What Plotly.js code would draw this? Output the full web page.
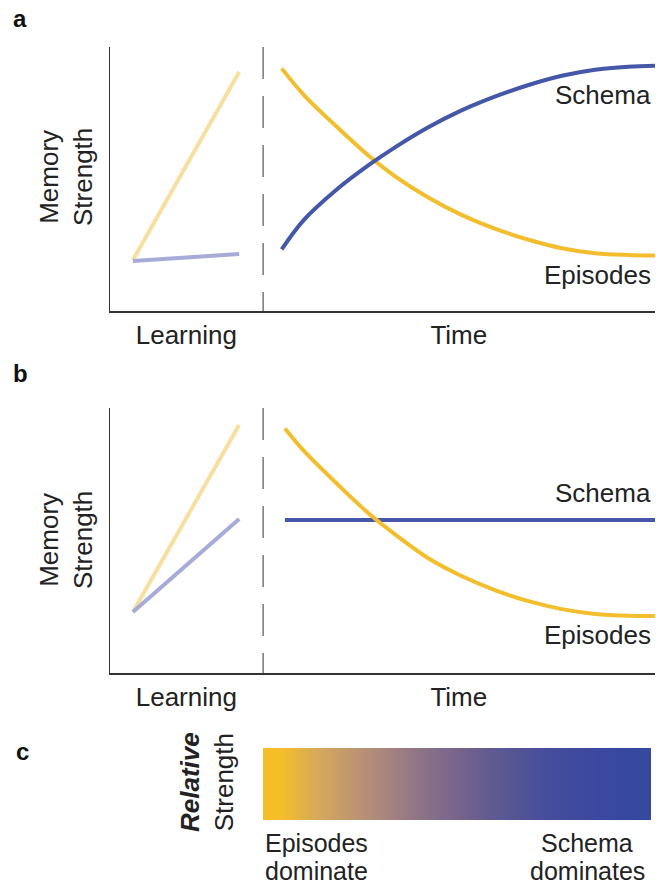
<!DOCTYPE html>
<html>
<head>
<meta charset="utf-8">
<script src="https://cdn.plot.ly/plotly-3.0.1.min.js"></script>
<style>html,body{margin:0;padding:0;background:#fff}#chart{width:656px;height:887px}</style>
</head>
<body>
<div id="chart"></div>
<script>
// ---- data (x: 0..100 time units, y: 0..100 memory strength) ----
var learnX = [4.2, 23.7];
var aLearnEpisodes = [19.3, 90.5];
var aLearnSchema = [18.9, 21.6];
var aTimeX = [31.5, 35.5, 41.6, 47.7, 52.3, 58.4, 64.5, 70.6, 76.8, 82.9, 89.0, 95.1, 100];
var aEpisodes = [91.9, 82.0, 69.8, 58.4, 51.0, 43.0, 36.4, 31.2, 27.0, 23.8, 21.9, 21.2, 21.0];
var aSchema = [23.3, 34.3, 46.0, 55.6, 62.0, 69.6, 76.0, 81.2, 85.6, 89.1, 91.4, 92.5, 92.9];

var bLearnEpisodes = [23.0, 93.6];
var bLearnSchema = [23.0, 58.1];
var bTimeX = [32.1, 35.5, 41.6, 47.7, 53.2, 58.4, 64.5, 70.6, 76.8, 82.9, 89.0, 95.1, 100];
var bEpisodes = [92.3, 84.0, 71.5, 59.8, 50.9, 43.3, 36.6, 31.3, 27.1, 24.1, 22.3, 21.6, 21.5];
var bSchema = [57.7, 57.7, 57.7, 57.7, 57.7, 57.7, 57.7, 57.7, 57.7, 57.7, 57.7, 57.7, 57.7];

var learningEnd = 28.1;
var xTickVals = [14, 64];
var xTickText = ['Learning', 'Time'];

var gradientZ = [[0, 0.1, 0.2, 0.3, 0.4, 0.5, 0.6, 0.7, 0.8, 0.9, 1]];
var gradientColors = [
  [0, 'rgb(245,190,40)'],
  [0.1, 'rgb(215,170,90)'],
  [0.25, 'rgb(180,140,120)'],
  [0.4, 'rgb(140,115,135)'],
  [0.5, 'rgb(120,100,140)'],
  [0.6, 'rgb(95,90,145)'],
  [0.75, 'rgb(70,78,155)'],
  [0.9, 'rgb(58,72,160)'],
  [1, 'rgb(55,72,160)']
];

// ---- styles ----
var YEL = '#F2BE2E', BLU = '#4457A8', YEL_L = '#F5E0A0', BLU_L = '#A7ABD8';
var TXT = '#222222';
var FONT = 'Liberation Sans, Arial, Helvetica, sans-serif';
var W = 656, H = 887;
function px(x){return x / W;}
function py(y){return 1 - y / H;}

function line(x, y, color, xa, ya){
  return {x: x, y: y, type: 'scatter', mode: 'lines', xaxis: xa, yaxis: ya,
          line: {color: color, width: 4, shape: 'spline', smoothing: 1}, hoverinfo: 'skip', showlegend: false};
}

var traces = [
  line(learnX, aLearnEpisodes, YEL_L, 'x', 'y'),
  line(learnX, aLearnSchema, BLU_L, 'x', 'y'),
  line(aTimeX, aEpisodes, YEL, 'x', 'y'),
  line(aTimeX, aSchema, BLU, 'x', 'y'),
  line(learnX, bLearnEpisodes, YEL_L, 'x2', 'y2'),
  line(learnX, bLearnSchema, BLU_L, 'x2', 'y2'),
  line(bTimeX, bSchema, BLU, 'x2', 'y2'),
  line(bTimeX, bEpisodes, YEL, 'x2', 'y2'),
  {type: 'heatmap', z: gradientZ, xaxis: 'x3', yaxis: 'y3', colorscale: gradientColors,
   zmin: 0, zmax: 1, zsmooth: 'best', showscale: false, hoverinfo: 'skip'}
];

function xax(){
  return {domain: [px(110), px(655)], range: [0, 100], showline: true, linecolor: '#333', linewidth: 1.5,
          showgrid: false, zeroline: false, ticks: '', tickvals: xTickVals, ticktext: xTickText,
          tickfont: {family: FONT, size: 26, color: TXT}, fixedrange: true};
}
function yax(dom){
  return {domain: dom, range: [0, 100], showline: true, linecolor: '#333', linewidth: 1.5,
          showgrid: false, zeroline: false, showticklabels: false, ticks: '', fixedrange: true};
}

var ann = [];
function label(text, x, y, opts){
  var a = {text: text, x: px(x), y: py(y), xref: 'paper', yref: 'paper', showarrow: false,
           font: {family: FONT, size: 26, color: TXT}, xanchor: 'center', yanchor: 'middle'};
  for (var k in opts) a[k] = opts[k];
  ann.push(a);
}
var LETTER = {family: FONT, size: 24, color: '#111'};
label('<b>a</b>', 20, 18, {font: LETTER});
label('<b>b</b>', 20, 373, {font: LETTER});
label('<b>c</b>', 22, 751, {font: LETTER});
label('Memory<br>Strength', 66, 177, {textangle: -90});
label('Memory<br>Strength', 66, 540, {textangle: -90});
label('Schema', 653, 95, {xanchor: 'right'});
label('Episodes', 653, 275, {xanchor: 'right'});
label('Schema', 653, 493, {xanchor: 'right'});
label('Episodes', 653, 635, {xanchor: 'right'});
label('<b><i>Relative</i></b><br>Strength', 207, 782, {textangle: -90});
var SMALL = {family: FONT, size: 25, color: TXT};
label('Episodes', 263, 843, {xanchor: 'left', font: SMALL});
label('dominate', 263, 871, {xanchor: 'left', font: SMALL});
label('Schema', 587, 843, {font: SMALL});
label('dominates', 587, 871, {font: SMALL});

var layout = {
  width: W, height: H, margin: {l: 0, r: 0, t: 0, b: 0},
  paper_bgcolor: '#fff', plot_bgcolor: 'rgba(0,0,0,0)',
  font: {family: FONT, color: TXT},
  xaxis: Object.assign(xax(), {anchor: 'y'}), yaxis: Object.assign(yax([py(311), py(47)]), {anchor: 'x'}),
  xaxis2: Object.assign(xax(), {anchor: 'y2'}), yaxis2: Object.assign(yax([py(673), py(408)]), {anchor: 'x2'}),
  xaxis3: {domain: [px(263), px(651)], anchor: 'y3', visible: false, fixedrange: true},
  yaxis3: {domain: [py(820), py(748)], anchor: 'x3', visible: false, fixedrange: true},
  shapes: [
    {type: 'line', xref: 'x', yref: 'y', x0: learningEnd, x1: learningEnd, y0: 100, y1: 0,
     line: {color: '#777', width: 1.5, dash: '32px,17px'}},
    {type: 'line', xref: 'x2', yref: 'y2', x0: learningEnd, x1: learningEnd, y0: 100, y1: 0,
     line: {color: '#777', width: 1.5, dash: '32px,17px'}}
  ],
  annotations: ann,
  showlegend: false
};

Plotly.newPlot('chart', traces, layout, {displayModeBar: false, staticPlot: true});
</script>
</body>
</html>
